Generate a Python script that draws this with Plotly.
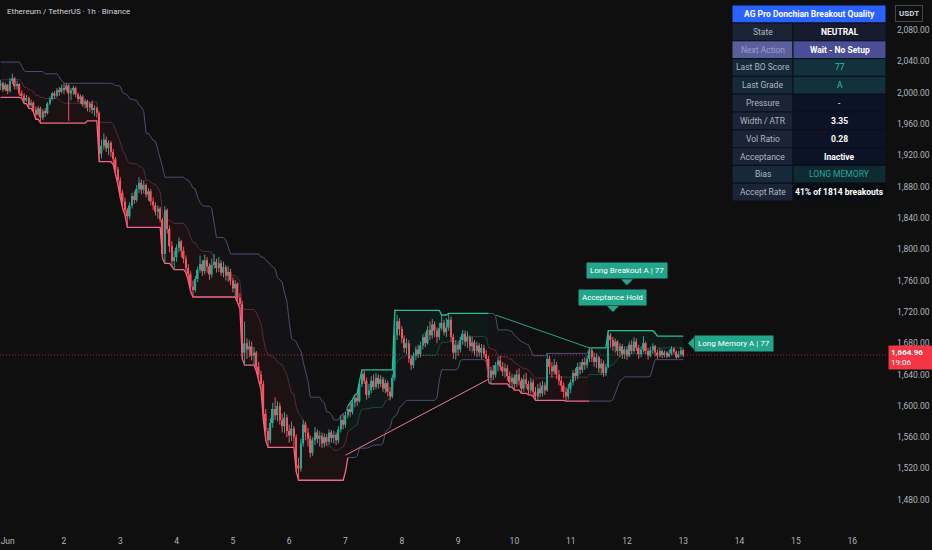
import pandas as pd
import plotly.graph_objects as go

# ---------------- data (hourly ETH/USDT candles) ----------------
first_open = 2008
start_time = "2023-05-31 21:00"

# hidden bars before the first visible one (only seed the Donchian window)
prior_highs = [2030, 2039, 2034, 2028, 2022, 2018, 2020, 2016, 2024, 2019, 2021, 2027]
prior_lows = [2012, 2018, 2015, 2008, 2002, 1998, 2004, 1994, 2003, 2001, 2006, 2009]

close_may31 = [2012, 2004, 2010]
high_may31 = [2016, 2014, 2013]
low_may31 = [2003, 2001, 2002]

close_jun01 = [2002, 2015, 2018, 2008, 2011, 1999, 1996, 1990, 1993, 1984, 1987, 1978,
               1972, 1980, 1968, 1976, 1974, 1986, 1992, 1999, 1996, 2003, 2001, 2006]
high_jun01 = [2011, 2019, 2024, 2020, 2015, 2012, 2003, 1999, 1997, 1995, 1991, 1989,
              1982, 1983, 1982, 1979, 1980, 1988, 1995, 2001, 2002, 2006, 2007, 2010]
low_jun01 = [1998, 2000, 2011, 2004, 2004, 1996, 1993, 1986, 1988, 1980, 1982, 1975,
             1966, 1970, 1961, 1965, 1969, 1972, 1984, 1990, 1992, 1994, 1996, 1999]

close_jun02 = [2004, 2009, 1999, 2003, 2006, 1998, 1992, 1995, 1985, 1989, 1981, 1986,
               1978, 1980, 1974, 1922, 1932, 1940, 1929, 1936, 1924, 1915, 1902, 1888]
high_jun02 = [2012, 2012, 2011, 2006, 2009, 2008, 2000, 1998, 1997, 1992, 1991, 1988,
              1990, 1984, 1982, 1976, 1940, 1948, 1944, 1939, 1938, 1928, 1918, 1905]
low_jun02 = [1998, 2001, 1964, 1990, 1997, 1994, 1988, 1986, 1982, 1980, 1976, 1975,
             1973, 1970, 1968, 1912, 1916, 1927, 1924, 1920, 1918, 1908, 1896, 1882]

close_jun03 = [1872, 1861, 1850, 1842, 1856, 1868, 1863, 1877, 1885, 1876, 1882, 1870,
               1874, 1861, 1856, 1848, 1852, 1838, 1794, 1850, 1826, 1804, 1785, 1790]
high_jun03 = [1892, 1876, 1866, 1853, 1860, 1872, 1874, 1882, 1892, 1889, 1888, 1884,
              1878, 1877, 1866, 1860, 1856, 1854, 1840, 1855, 1852, 1830, 1810, 1798]
low_jun03 = [1866, 1852, 1844, 1828, 1838, 1852, 1858, 1860, 1872, 1870, 1871, 1866,
             1862, 1856, 1850, 1843, 1839, 1834, 1788, 1782, 1820, 1796, 1778, 1774]

close_jun04 = [1802, 1810, 1798, 1788, 1776, 1768, 1752, 1748, 1762, 1774, 1781, 1772,
               1786, 1778, 1768, 1780, 1784, 1776, 1782, 1770, 1777, 1766, 1771, 1760]
high_jun04 = [1806, 1815, 1812, 1803, 1792, 1781, 1772, 1760, 1766, 1778, 1792, 1786,
              1793, 1790, 1782, 1788, 1794, 1788, 1790, 1786, 1784, 1780, 1778, 1775]
low_jun04 = [1784, 1796, 1790, 1782, 1770, 1760, 1746, 1739, 1745, 1758, 1770, 1766,
             1768, 1770, 1761, 1764, 1775, 1770, 1771, 1766, 1764, 1760, 1758, 1754]

close_jun05 = [1750, 1756, 1738, 1730, 1668, 1680, 1672, 1676, 1664, 1668, 1650, 1640,
               1628, 1590, 1568, 1556, 1578, 1596, 1588, 1600, 1582, 1574, 1585, 1568]
high_jun05 = [1764, 1761, 1758, 1744, 1734, 1708, 1686, 1684, 1682, 1675, 1670, 1656,
              1645, 1632, 1596, 1572, 1584, 1604, 1611, 1606, 1604, 1590, 1592, 1589]
low_jun05 = [1745, 1740, 1732, 1724, 1660, 1652, 1660, 1662, 1658, 1652, 1644, 1630,
             1620, 1582, 1556, 1547, 1552, 1572, 1582, 1580, 1576, 1566, 1565, 1560]

close_jun06 = [1562, 1571, 1560, 1524, 1520, 1552, 1576, 1566, 1558, 1540, 1556, 1566,
               1558, 1562, 1552, 1560, 1554, 1566, 1559, 1563, 1556, 1570, 1582, 1576]
high_jun06 = [1576, 1580, 1574, 1564, 1534, 1558, 1582, 1580, 1572, 1562, 1560, 1573,
              1570, 1568, 1566, 1565, 1564, 1570, 1569, 1568, 1566, 1574, 1588, 1590]
low_jun06 = [1553, 1555, 1548, 1516, 1505, 1516, 1548, 1556, 1548, 1534, 1536, 1550,
             1552, 1548, 1546, 1547, 1549, 1550, 1553, 1552, 1550, 1552, 1566, 1570]

close_jun07 = [1588, 1596, 1592, 1604, 1610, 1606, 1628, 1641, 1632, 1614, 1620, 1632,
               1624, 1636, 1628, 1634, 1622, 1629, 1618, 1612, 1636, 1690, 1708, 1698]
high_jun07 = [1592, 1600, 1604, 1608, 1614, 1616, 1632, 1646, 1645, 1636, 1628, 1638,
              1640, 1642, 1640, 1639, 1637, 1634, 1632, 1624, 1640, 1722, 1716, 1712]
low_jun07 = [1572, 1584, 1586, 1589, 1598, 1600, 1604, 1624, 1628, 1608, 1610, 1616,
             1620, 1621, 1622, 1624, 1618, 1616, 1612, 1607, 1610, 1632, 1684, 1690]

close_jun08 = [1686, 1674, 1680, 1660, 1652, 1664, 1672, 1666, 1677, 1688, 1680, 1697,
               1690, 1704, 1696, 1688, 1699, 1706, 1694, 1700, 1710, 1688, 1668, 1678]
high_jun08 = [1702, 1690, 1686, 1684, 1664, 1668, 1676, 1678, 1682, 1692, 1694, 1702,
              1708, 1711, 1708, 1700, 1706, 1716, 1710, 1712, 1718, 1714, 1692, 1684]
low_jun08 = [1680, 1668, 1666, 1655, 1646, 1648, 1658, 1661, 1662, 1672, 1675, 1678,
             1684, 1686, 1688, 1680, 1684, 1696, 1690, 1688, 1696, 1682, 1660, 1659]

close_jun09 = [1672, 1684, 1692, 1682, 1688, 1676, 1681, 1670, 1677, 1668, 1674, 1666,
               1660, 1636, 1645, 1640, 1652, 1658, 1650, 1644, 1648, 1638, 1630, 1636]
high_jun09 = [1682, 1688, 1697, 1696, 1695, 1690, 1688, 1684, 1682, 1680, 1679, 1678,
              1671, 1664, 1650, 1652, 1656, 1662, 1664, 1656, 1654, 1652, 1644, 1641]
low_jun09 = [1664, 1668, 1678, 1676, 1674, 1670, 1668, 1664, 1662, 1663, 1660, 1662,
             1656, 1630, 1628, 1633, 1636, 1644, 1645, 1638, 1636, 1632, 1624, 1624]

close_jun10 = [1628, 1640, 1632, 1622, 1634, 1628, 1620, 1630, 1618, 1612, 1622, 1616,
               1626, 1620, 1660, 1650, 1644, 1652, 1640, 1632, 1626, 1618, 1612, 1622]
high_jun10 = [1640, 1646, 1648, 1636, 1640, 1642, 1632, 1636, 1634, 1624, 1628, 1630,
              1632, 1630, 1667, 1664, 1656, 1660, 1656, 1646, 1638, 1630, 1624, 1628]
low_jun10 = [1620, 1624, 1626, 1616, 1618, 1622, 1614, 1616, 1612, 1607, 1608, 1611,
             1612, 1614, 1618, 1640, 1636, 1640, 1634, 1626, 1618, 1610, 1606, 1608]

close_jun11 = [1630, 1642, 1638, 1650, 1646, 1656, 1652, 1660, 1671, 1662, 1656, 1662,
               1648, 1654, 1642, 1650, 1690, 1684, 1676, 1682, 1670, 1676, 1666, 1672]
high_jun11 = [1634, 1646, 1648, 1655, 1656, 1660, 1662, 1665, 1674, 1673, 1668, 1667,
              1664, 1660, 1658, 1654, 1696, 1693, 1688, 1686, 1684, 1680, 1679, 1676]
low_jun11 = [1616, 1626, 1632, 1634, 1640, 1642, 1646, 1648, 1656, 1656, 1650, 1648,
             1642, 1640, 1637, 1638, 1648, 1674, 1670, 1668, 1664, 1662, 1660, 1660]

close_jun12 = [1664, 1678, 1670, 1682, 1674, 1666, 1672, 1680, 1670, 1664, 1671, 1676,
               1668, 1664, 1670, 1665, 1668, 1663, 1667, 1673, 1669, 1662, 1666, 1671, 1664.96]
high_jun12 = [1676, 1682, 1684, 1688, 1686, 1678, 1676, 1689, 1682, 1674, 1676, 1680,
              1678, 1672, 1674, 1672, 1671, 1670, 1672, 1676, 1675, 1671, 1670, 1675, 1673]
low_jun12 = [1659, 1662, 1666, 1668, 1670, 1660, 1662, 1668, 1666, 1659, 1662, 1666,
             1663, 1660, 1662, 1661, 1662, 1661, 1662, 1664, 1665, 1660, 1661, 1663, 1662]

donchian_length = 20

# "memory" projection lines (bar index, price)
memory_bear_idx = [147, 208]
memory_bear_price = [1537, 1634]
memory_bull_idx = [211, 251]
memory_bull_price = [1716, 1674]

# signal labels (bar index of pointer tip, price of tip)
label_texts = ["Long Breakout A | 77", "Acceptance Hold", "Long Memory A | 77"]
label_idx = [267, 261, 293]
label_price = [1754, 1720, 1680]
label_dir = ["down", "down", "left"]

# axis ticks
x_tick_days = list(range(1, 17))
x_tick_text = ["Jun"] + [str(d) for d in range(2, 17)]
y_tick_values = list(range(1480, 2081, 40))

last_price_text = "1,664.96"
countdown_text = "19:06"
title_text = "Ethereum / TetherUS · 1h · Binance"

table_title = "AG Pro Donchian Breakout Quality"
table_labels = ["State", "Next Action", "Last BO Score", "Last Grade", "Pressure",
                "Width / ATR", "Vol Ratio", "Acceptance", "Bias", "Accept Rate"]
table_values = ["NEUTRAL", "Wait - No Setup", "77", "A", "-", "3.35", "0.28",
                "Inactive", "LONG MEMORY", "41% of 1814 breakouts"]

# ---------------- assemble ----------------
closes = (close_may31 + close_jun01 + close_jun02 + close_jun03 + close_jun04 + close_jun05 +
          close_jun06 + close_jun07 + close_jun08 + close_jun09 + close_jun10 + close_jun11 + close_jun12)
highs = (high_may31 + high_jun01 + high_jun02 + high_jun03 + high_jun04 + high_jun05 +
         high_jun06 + high_jun07 + high_jun08 + high_jun09 + high_jun10 + high_jun11 + high_jun12)
lows = (low_may31 + low_jun01 + low_jun02 + low_jun03 + low_jun04 + low_jun05 +
        low_jun06 + low_jun07 + low_jun08 + low_jun09 + low_jun10 + low_jun11 + low_jun12)
opens = [first_open] + closes[:-1]
n = len(closes)
t0 = pd.Timestamp(start_time)
H = pd.Timedelta(hours=1)
times = [t0 + i * H for i in range(n)]
highs = [max(h, o, c) for h, o, c in zip(highs, opens, closes)]
lows = [min(l, o, c) for l, o, c in zip(lows, opens, closes)]

all_h = pd.Series(prior_highs + highs)
all_l = pd.Series(prior_lows + lows)
k = len(prior_highs)
upper = all_h.rolling(donchian_length, min_periods=1).max().values[k:]
lower = all_l.rolling(donchian_length, min_periods=1).min().values[k:]
basis = (upper + lower) / 2

trend = []
state = -1
for i in range(n):
    if i > 0:
        if closes[i] > upper[i - 1]:
            state = 1
        elif closes[i] < lower[i - 1]:
            state = -1
    trend.append(state)

BG = "#0f0f0f"
UP = "#22ab94"
DOWN = "#f7525f"
PINK = "#f0698a"
GREENB = "#2bbd94"
SLATE = "#4a4e72"
LABEL = "#22a58b"
TXT = "#b2b5be"

fig = go.Figure()

# runs of constant trend
runs = []
s = 0
for i in range(1, n + 1):
    if i == n or trend[i] != trend[s]:
        runs.append((s, min(i, n - 1), trend[s]))
        s = i
for (a, b, tr) in runs:
    xs = times[a:b + 1]
    bear = tr < 0
    fig.add_trace(go.Scatter(x=xs, y=lower[a:b + 1], mode="lines",
                             line=dict(color=PINK if bear else SLATE, width=1.3 if bear else 1),
                             hoverinfo="skip", showlegend=False))
    fig.add_trace(go.Scatter(x=xs, y=basis[a:b + 1], mode="lines", fill="tonexty",
                             fillcolor="rgba(242,54,80,0.06)" if bear else "rgba(90,100,160,0.05)",
                             line=dict(color="rgba(240,105,138,0.3)" if bear else "rgba(43,189,148,0.3)", width=1),
                             hoverinfo="skip", showlegend=False))
    fig.add_trace(go.Scatter(x=xs, y=upper[a:b + 1], mode="lines", fill="tonexty",
                             fillcolor="rgba(90,100,160,0.05)" if bear else "rgba(34,171,148,0.07)",
                             line=dict(color=SLATE if bear else GREENB, width=1 if bear else 1.3),
                             hoverinfo="skip", showlegend=False))

# memory lines
fig.add_trace(go.Scatter(x=[t0 + i * H for i in memory_bear_idx], y=memory_bear_price, mode="lines",
                         line=dict(color="#e77d92", width=1), hoverinfo="skip", showlegend=False))
fig.add_trace(go.Scatter(x=[t0 + i * H for i in memory_bull_idx], y=memory_bull_price, mode="lines",
                         line=dict(color="#26a68c", width=1), hoverinfo="skip", showlegend=False))

# candles
body_base = [min(o, c) for o, c in zip(opens, closes)]
body_h = [max(abs(c - o), 0.8) for o, c in zip(opens, closes)]
cols = [UP if c >= o else DOWN for o, c in zip(opens, closes)]
fig.add_trace(go.Bar(x=times, y=body_h, base=body_base, width=0.68 * 3600 * 1000,
                     marker=dict(color=cols, line=dict(width=0)), hoverinfo="skip", showlegend=False))
for up_flag, col in [(True, UP), (False, DOWN)]:
    wx, wy = [], []
    for i in range(n):
        if (closes[i] >= opens[i]) == up_flag:
            wx += [times[i], times[i], None]
            wy += [lows[i], highs[i], None]
    fig.add_trace(go.Scatter(x=wx, y=wy, mode="lines", line=dict(color=col, width=1),
                             hoverinfo="skip", showlegend=False))

# current price line
last_close = closes[-1]
shapes = [dict(type="line", xref="paper", x0=0, x1=1, yref="y", y0=last_close, y1=last_close,
               line=dict(color="rgba(242,54,69,0.7)", width=1, dash="1px,2px"), layer="above")]
annotations = []

# labels
for txt, idx, pr, d in zip(label_texts, label_idx, label_price, label_dir):
    tx = t0 + idx * H
    if d == "down":
        annotations.append(dict(x=tx, y=pr, xref="x", yref="y", text=txt, showarrow=False,
                                xanchor="center", yanchor="bottom", yshift=6,
                                bgcolor=LABEL, borderpad=3, font=dict(color="white", size=8)))
        path = "M -6 6 L 6 6 L 0 0 Z"
    else:
        annotations.append(dict(x=tx, y=pr, xref="x", yref="y", text=txt, showarrow=False,
                                xanchor="left", yanchor="middle", xshift=6,
                                bgcolor=LABEL, borderpad=3, font=dict(color="white", size=8)))
        path = "M 0 0 L 6 6 L 6 -6 Z"
    shapes.append(dict(type="path", xsizemode="pixel", ysizemode="pixel", xanchor=tx, yanchor=pr,
                       xref="x", yref="y", path=path, fillcolor=LABEL, line=dict(width=0), layer="above"))

# ---------------- table (pixel layout) ----------------
PW, PH = 888, 528


def px(x):
    return x / PW


def py(y):
    return 1 - y / PH


row_style = [
    ("#1b2336", "#161c2e", TXT, "#ffffff", True),
    ("#5a5e9a", "#4a4e95", "#9a9ecf", "#ffffff", True),
    ("#15293a", "#12313c", TXT, "#26c6a0", False),
    ("#15293a", "#12313c", TXT, "#26c6a0", False),
    ("#1b2336", "#0d1326", TXT, "#ffffff", False),
    ("#1b2336", "#0d1326", TXT, "#ffffff", True),
    ("#1b2336", "#0d1326", TXT, "#ffffff", True),
    ("#1b2336", "#0d1326", TXT, "#ffffff", True),
    ("#15293a", "#0f2a30", TXT, "#26a69a", False),
    ("#1b2336", "#0a0c14", TXT, "#ffffff", True),
]
TX0, TXM, TX1 = 732, 793, 886
HY0, HY1 = 5, 23
RH = 17.8
shapes.append(dict(type="rect", xref="paper", yref="paper", x0=px(TX0), x1=px(TX1), y0=py(HY1), y1=py(HY0),
                   fillcolor="#2962ff", line=dict(color="#0b0e17", width=1), layer="above"))
annotations.append(dict(xref="paper", yref="paper", x=px((TX0 + TX1) / 2), y=py((HY0 + HY1) / 2),
                        text="<b>" + table_title + "</b>", showarrow=False, xanchor="center", yanchor="middle",
                        font=dict(color="white", size=8.5)))
for r, (lab, val) in enumerate(zip(table_labels, table_values)):
    y0 = HY1 + r * RH
    y1 = y0 + RH
    lb, rb, lc, rc, bold = row_style[r]
    shapes.append(dict(type="rect", xref="paper", yref="paper", x0=px(TX0), x1=px(TXM), y0=py(y1), y1=py(y0),
                       fillcolor=lb, line=dict(color="#0b0e17", width=1), layer="above"))
    shapes.append(dict(type="rect", xref="paper", yref="paper", x0=px(TXM), x1=px(TX1), y0=py(y1), y1=py(y0),
                       fillcolor=rb, line=dict(color="#0b0e17", width=1), layer="above"))
    annotations.append(dict(xref="paper", yref="paper", x=px((TX0 + TXM) / 2), y=py((y0 + y1) / 2),
                            text=lab, showarrow=False, xanchor="center", yanchor="middle",
                            font=dict(color=lc, size=8.5)))
    annotations.append(dict(xref="paper", yref="paper", x=px((TXM + TX1) / 2), y=py((y0 + y1) / 2),
                            text=("<b>%s</b>" % val) if bold else val, showarrow=False,
                            xanchor="center", yanchor="middle", font=dict(color=rc, size=8.5)))

# title
annotations.append(dict(xref="paper", yref="paper", x=px(5), y=py(11), text=title_text, showarrow=False,
                        xanchor="left", yanchor="middle", font=dict(color="#d1d4dc", size=8)))
# USDT button
annotations.append(dict(xref="paper", yref="paper", x=px(909), y=py(13), text="<b>USDT</b>", showarrow=False,
                        xanchor="center", yanchor="middle", bgcolor=BG, bordercolor="#434651",
                        borderwidth=1, borderpad=3, font=dict(color="#d1d4dc", size=8)))
# last price tag
annotations.append(dict(xref="paper", yref="y", x=1.0, y=last_close, xanchor="left", yanchor="middle",
                        yshift=-3,
                        text="<b>%s</b><br>%s" % (last_price_text, countdown_text), showarrow=False,
                        align="left", bgcolor="#f23645", borderpad=2, width=40,
                        font=dict(color="white", size=8)))

x_start = pd.Timestamp("2023-06-01") - pd.Timedelta(hours=3.28)
x_end = pd.Timestamp("2023-06-01") + pd.Timedelta(days=15.636)

fig.update_layout(
    width=932, height=550,
    margin=dict(l=0, r=44, t=0, b=22),
    paper_bgcolor=BG, plot_bgcolor=BG,
    font=dict(family="Roboto", color=TXT, size=8),
    barmode="overlay", showlegend=False,
    shapes=shapes, annotations=annotations,
    xaxis=dict(range=[x_start, x_end], showgrid=False, zeroline=False, showline=False,
               tickvals=[pd.Timestamp("2023-06-%02d" % d) for d in x_tick_days], ticktext=x_tick_text,
               ticks="", ticklabelstandoff=6, tickfont=dict(color=TXT, size=8.5), fixedrange=True),
    yaxis=dict(range=[1444.0, 2118.3], side="right", showgrid=False, zeroline=False, showline=False,
               tickvals=y_tick_values, ticktext=["{:,.2f}".format(v) for v in y_tick_values],
               ticks="", ticklabelstandoff=8, tickfont=dict(color=TXT, size=8.5), fixedrange=True),
)

fig.write_html("out.html", config={"displayModeBar": False},
               post_script="document.body.style.margin='0';document.body.style.background='#0f0f0f';"
                           "document.body.style.overflow='hidden';")
